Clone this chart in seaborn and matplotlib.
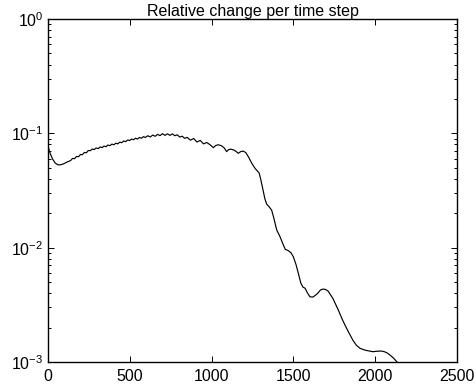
import numpy as np
import pandas as pd
import seaborn as sns
import matplotlib
matplotlib.use("Agg")
import matplotlib.pyplot as plt
from matplotlib.ticker import FixedLocator, LogLocator, NullFormatter

# Time step index and log10 of the relative change at that step
time_step = [
    0, 15, 30, 45, 60, 75, 95, 120,
    140, 152, 164, 176, 188, 200, 212, 224, 236, 248, 260, 272, 284, 296,
    308, 320, 332, 344, 356, 368, 380, 392, 404, 416, 428, 440, 452, 464,
    476, 488, 500, 512, 524, 536, 548, 560, 572, 584, 596,
    611, 626, 641, 656, 671, 686, 701, 716, 731, 746, 761, 776, 791, 806,
    821, 836, 851,
    871, 891, 911, 931, 951, 971, 991,
    1011, 1026, 1041, 1060, 1078, 1092, 1102, 1115, 1135, 1150, 1163, 1178,
    1194, 1210, 1225, 1245, 1265, 1280, 1290, 1300, 1315, 1326, 1337, 1350,
    1367, 1380, 1398, 1418, 1435, 1450, 1469, 1485, 1499, 1515, 1530, 1545,
    1558, 1571, 1585, 1601, 1619, 1635, 1650, 1665, 1680, 1695, 1711, 1741,
    1772, 1802, 1833, 1863, 1885, 1906, 1930, 1949, 1985, 2010, 2035, 2055,
    2071, 2090, 2110, 2132, 2145,
]
log10_change = [
    -1.105, -1.175, -1.225, -1.258, -1.274, -1.276, -1.268, -1.250,
    -1.238, -1.219, -1.222, -1.202, -1.205, -1.185, -1.187, -1.167, -1.170,
    -1.150, -1.152, -1.137, -1.142, -1.128, -1.134, -1.119, -1.125, -1.111,
    -1.117, -1.102, -1.108, -1.094, -1.100, -1.086, -1.092, -1.077, -1.082,
    -1.067, -1.073, -1.058, -1.063, -1.050, -1.056, -1.043, -1.050, -1.036,
    -1.043, -1.029, -1.036,
    -1.021, -1.032, -1.015, -1.026, -1.009, -1.020, -1.003, -1.018, -1.004,
    -1.018, -1.005, -1.021, -1.013, -1.033, -1.025, -1.044, -1.035,
    -1.060, -1.045, -1.076, -1.062, -1.092, -1.080, -1.100,
    -1.125, -1.106, -1.100, -1.108, -1.128, -1.160, -1.145, -1.138, -1.145,
    -1.158, -1.175, -1.160, -1.155, -1.170, -1.205, -1.260, -1.305, -1.330,
    -1.345, -1.400, -1.500, -1.575, -1.620, -1.640, -1.672, -1.740, -1.846,
    -1.904, -1.965, -2.015, -2.026, -2.045, -2.079, -2.145, -2.225, -2.310,
    -2.345, -2.355, -2.395, -2.430, -2.432, -2.415, -2.396, -2.370, -2.362,
    -2.365, -2.379, -2.445, -2.540, -2.640, -2.730, -2.810, -2.855, -2.880,
    -2.893, -2.900, -2.910, -2.906, -2.904, -2.910, -2.920, -2.940, -2.965,
    -3.000, -3.020,
]
x_ticks = [0, 500, 1000, 1500, 2000, 2500]
title_text = "Relative change per time step"

sns.set_style("ticks")
plt.rcParams["font.family"] = ["Liberation Sans", "DejaVu Sans"]
plt.rcParams["mathtext.fontset"] = "custom"
plt.rcParams["mathtext.rm"] = "Liberation Sans"
plt.rcParams["mathtext.it"] = "Liberation Sans"
plt.rcParams["text.color"] = "black"

df = pd.DataFrame({
    "step": time_step,
    "change": np.power(10.0, np.array(log10_change)),
})

fig = plt.figure(figsize=(4.76, 3.84), dpi=100)
ax = fig.add_axes([0.1002, 0.0573, 0.8605, 0.8932])

sns.lineplot(data=df, x="step", y="change", color="black", linewidth=0.85,
             estimator=None, sort=False, ax=ax)

ax.set_yscale("log")
ax.set_xlim(0, 2500)
ax.set_ylim(1e-3, 1)
ax.xaxis.set_major_locator(FixedLocator(x_ticks))
ax.yaxis.set_major_locator(LogLocator(base=10, numticks=10))
ax.yaxis.set_minor_locator(LogLocator(base=10, subs=np.arange(2, 10), numticks=20))
ax.yaxis.set_minor_formatter(NullFormatter())

for side in ["top", "right", "bottom", "left"]:
    ax.spines[side].set_visible(True)
    ax.spines[side].set_color("black")
    ax.spines[side].set_linewidth(1.0)

ax.tick_params(which="both", direction="in", top=True, right=True,
               colors="black", labelsize=11.5, width=0.7)
ax.tick_params(which="major", length=4.5, pad=3)
ax.tick_params(axis="x", which="major", pad=5)
ax.tick_params(which="minor", length=2.5)
ax.set_xlabel("")
ax.set_ylabel("")
ax.set_title(title_text, fontsize=11.5, pad=2, color="black")

fig.savefig("out.png", dpi=100)
